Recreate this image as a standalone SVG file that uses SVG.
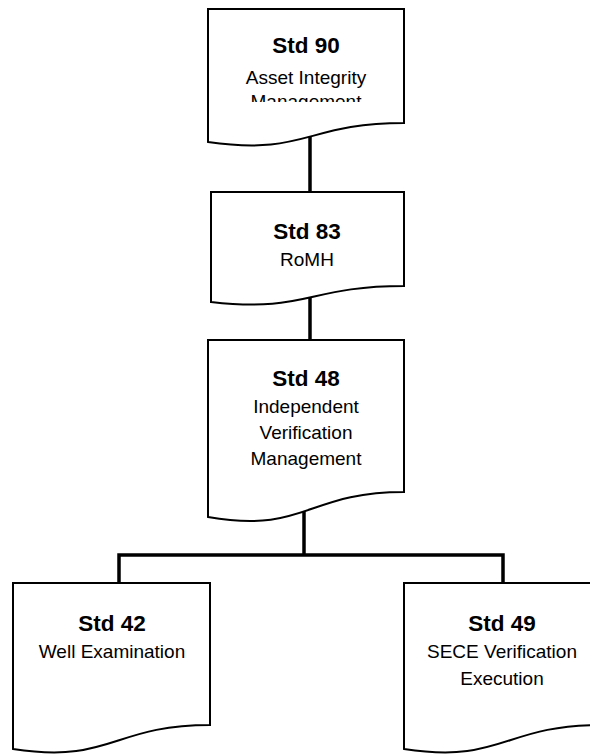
<svg xmlns="http://www.w3.org/2000/svg" width="590" height="754" viewBox="0 0 590 754">
<style>
.doc{fill:#fff;stroke:#000;stroke-width:2;stroke-linejoin:miter}
.con{fill:none;stroke:#000;stroke-width:3.5}
.t{font-family:"Liberation Sans",Arial,sans-serif;text-anchor:middle;fill:#000}
.b{font-weight:bold;font-size:22.5px}
.r{font-size:19px}
</style>
<defs>
<clipPath id="clip90"><rect x="208" y="9" width="196" height="93"/></clipPath>
</defs>
<g id="connectors">
<line class="con" x1="310" y1="130" x2="310" y2="193"/>
<line class="con" x1="310" y1="290" x2="310" y2="341"/>
<line class="con" x1="304" y1="500" x2="304" y2="555"/>
<polyline class="con" points="119,584 119,555 503,555 503,584"/>
</g>
<g id="std90">
<path class="doc" d="M208,9 H404 V123 C306,123 306,156 208,142 Z"/>
<g clip-path="url(#clip90)">
<text class="t b" x="306" y="53">Std 90</text>
<text class="t r" x="306" y="84">Asset Integrity</text>
<text class="t r" x="306" y="108">Management</text>
</g>
</g>
<g id="std83">
<path class="doc" d="M211,192 H404 V286 C307,286 307,313 211,302 Z"/>
<text class="t b" x="307" y="239">Std 83</text>
<text class="t r" x="307" y="266">RoMH</text>
</g>
<g id="std48">
<path class="doc" d="M208,340 H404 V492 C306,492 306,534 208,517 Z"/>
<text class="t b" x="306" y="386">Std 48</text>
<text class="t r" x="306" y="413">Independent</text>
<text class="t r" x="306" y="439">Verification</text>
<text class="t r" x="306" y="465">Management</text>
</g>
<g id="std42">
<path class="doc" d="M13,583 H210 V725 C112,725 112,764 13,749 Z"/>
<text class="t b" x="112" y="631">Std 42</text>
<text class="t r" x="112" y="658">Well Examination</text>
</g>
<g id="std49">
<path class="doc" d="M404,583 H601 V725 C503,725 503,764 404,749 Z"/>
<text class="t b" x="502" y="631">Std 49</text>
<text class="t r" x="502" y="658">SECE Verification</text>
<text class="t r" x="502" y="685">Execution</text>
</g>
</svg>
